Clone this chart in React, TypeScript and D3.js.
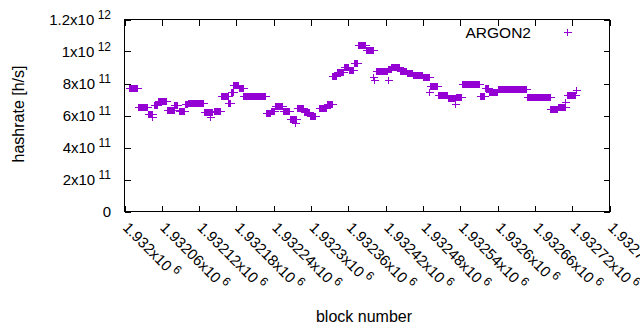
import React from "react";
import * as d3 from "d3";

// Runs of blocks sharing the same estimated hashrate (block numbers, h/s)
const runFirstBlock = [
  1932007, 1932022, 1932038, 1932047, 1932054, 1932068, 1932080, 1932087, 1932097, 1932102,
  1932128, 1932144, 1932155, 1932167, 1932171, 1932175, 1932184, 1932191, 1932227, 1932235,
  1932242, 1932255, 1932266, 1932277, 1932288, 1932298, 1932313, 1932325, 1932335, 1932341,
  1932353, 1932361, 1932369, 1932375, 1932388, 1932404, 1932423, 1932429, 1932443, 1932454,
  1932464, 1932480, 1932491, 1932504, 1932520, 1932533, 1932542, 1932571, 1932579, 1932586,
  1932600, 1932647, 1932685, 1932697, 1932711,
];
const runLastBlock = [
  1932020, 1932036, 1932045, 1932053, 1932066, 1932079, 1932085, 1932096, 1932101, 1932126,
  1932141, 1932153, 1932166, 1932170, 1932174, 1932183, 1932190, 1932226, 1932234, 1932241,
  1932254, 1932265, 1932276, 1932287, 1932297, 1932307, 1932324, 1932334, 1932340, 1932352,
  1932360, 1932368, 1932374, 1932387, 1932400, 1932422, 1932428, 1932442, 1932453, 1932463,
  1932479, 1932490, 1932503, 1932519, 1932532, 1932541, 1932570, 1932578, 1932585, 1932599,
  1932646, 1932684, 1932696, 1932708, 1932725,
];
const runHashrate = [
  7.69e11, 6.53e11, 6.09e11, 6.63e11, 6.88e11, 6.34e11, 6.63e11, 6.25e11, 6.69e11, 6.78e11,
  6.19e11, 6.31e11, 7.19e11, 6.81e11, 7.44e11, 7.91e11, 7.69e11, 7.19e11, 6.17e11, 6.31e11,
  6.58e11, 6.31e11, 5.77e11, 6.47e11, 6.19e11, 6.0e11, 6.5e11, 6.75e11, 8.44e11, 8.72e11,
  9.02e11, 8.83e11, 9.27e11, 10.41e11, 10.08e11, 8.78e11, 8.88e11, 9.02e11, 8.81e11, 8.64e11,
  8.56e11, 8.38e11, 7.84e11, 7.28e11, 7.08e11, 7.17e11, 7.97e11, 7.25e11, 7.71e11, 7.44e11,
  7.67e11, 7.17e11, 6.42e11, 6.56e11, 7.31e11,
];

// Single blocks that stand apart from their run
const outlierBlock = [1932044, 1932138, 1932275, 1932333, 1932400, 1932402, 1932424, 1932490, 1932532, 1932708, 1932726];
const outlierHashrate = [5.9e11, 5.9e11, 5.55e11, 8.5e11, 8.39e11, 8.19e11, 8.19e11, 7.44e11, 6.75e11, 6.83e11, 7.61e11];

const xTickValues = [
  1932000, 1932060, 1932120, 1932180, 1932240, 1932300, 1932360,
  1932420, 1932480, 1932540, 1932600, 1932660, 1932720, 1932780,
];
const xTickLabels = [
  "1.932x10^6", "1.93206x10^6", "1.93212x10^6", "1.93218x10^6", "1.93224x10^6", "1.9323x10^6", "1.93236x10^6",
  "1.93242x10^6", "1.93248x10^6", "1.93254x10^6", "1.9326x10^6", "1.93266x10^6", "1.93272x10^6", "1.93278x10^6",
];
const yTickValues = [0, 2e11, 4e11, 6e11, 8e11, 1e12, 1.2e12];
const yTickLabels = ["0", "2x10^11", "4x10^11", "6x10^11", "8x10^11", "1x10^12", "1.2x10^12"];

const seriesName = "ARGON2";
const xTitle = "block number";
const yTitle = "hashrate [h/s]";

const COLOR = "#9400d3";
const FONT = "'Liberation Sans', Arial, sans-serif";

function Label({ text, supSize }: { text: string; supSize: number }) {
  const [main, exp] = text.split("^");
  return (
    <>
      {main}
      {exp !== undefined && (
        <tspan fontSize={supSize} dy={-6}>
          {" " + exp}
        </tspan>
      )}
    </>
  );
}

export default function App() {
  const W = 640;
  const H = 330;
  const left = 124.5, right = 609.5, top = 19.5, bottom = 211.5;
  const x = d3.scaleLinear().domain([1932000, 1932780]).range([left, right]);
  const y = d3.scaleLinear().domain([0, 1.2e12]).range([bottom, top]);

  const pts: [number, number][] = [];
  runFirstBlock.forEach((b0, i) => {
    for (let b = b0; b <= runLastBlock[i]; b++) pts.push([b, runHashrate[i]]);
  });
  outlierBlock.forEach((b, i) => pts.push([b, outlierHashrate[i]]));

  const plus = (px: number, py: number) => {
    const cx = Math.round(px) + 0.5;
    const cy = Math.round(py) + 0.5;
    return `M${cx - 3.5},${cy}h8M${cx},${cy - 3.5}v7`;
  };
  const d = pts.map(([b, v]) => plus(x(b), y(v))).join("");

  const tick = 6;
  const tickSize = 15;
  const supSize = 12;

  return (
    <svg
      width={W}
      height={H}
      style={{ position: "absolute", left: 0, top: 0, background: "#fff" }}
      fontFamily={FONT}
    >
      <rect x={0} y={0} width={W} height={H} fill="#fff" />
      <g stroke="#000" strokeWidth={1} shapeRendering="crispEdges">
        {yTickValues.map((v, i) => {
          const py = Math.round(y(v)) + 0.5;
          return (
            <g key={"yt" + i}>
              <line x1={left} x2={left + tick} y1={py} y2={py} />
              <line x1={right - tick} x2={right} y1={py} y2={py} />
            </g>
          );
        })}
        {xTickValues.map((v, i) => {
          const px = Math.round(x(v)) + 0.5;
          return (
            <g key={"xt" + i}>
              <line x1={px} x2={px} y1={bottom} y2={bottom - tick} />
              <line x1={px} x2={px} y1={top} y2={top + tick} />
            </g>
          );
        })}
        <rect x={left} y={top} width={right - left} height={bottom - top} fill="none" />
      </g>
      <g fontSize={tickSize} fill="#000">
        {yTickValues.map((v, i) => (
          <text key={"yl" + i} x={111} y={y(v) + 5.5} textAnchor="end">
            <Label text={yTickLabels[i]} supSize={supSize} />
          </text>
        ))}
      </g>
      <g fontSize={tickSize} fill="#000">
        {xTickValues.map((v, i) => (
          <text
            key={"xl" + i}
            transform={`translate(${x(v) - 2.5},${228.5}) rotate(45)`}
            textAnchor="start"
          >
            <Label text={xTickLabels[i]} supSize={supSize} />
          </text>
        ))}
      </g>
      <text x={364} y={322} fontSize={16} textAnchor="middle" fill="#000">
        {xTitle}
      </text>
      <text transform="translate(24,114) rotate(-90)" fontSize={16} textAnchor="middle" fill="#000">
        {yTitle}
      </text>
      <path d={d} stroke={COLOR} strokeWidth={1} fill="none" shapeRendering="crispEdges" />
      <text x={531} y={37.5} fontSize={15.5} textAnchor="end" fill="#000">
        {seriesName}
      </text>
      <path d={plus(567, 32)} stroke={COLOR} strokeWidth={1} fill="none" shapeRendering="crispEdges" />
    </svg>
  );
}
